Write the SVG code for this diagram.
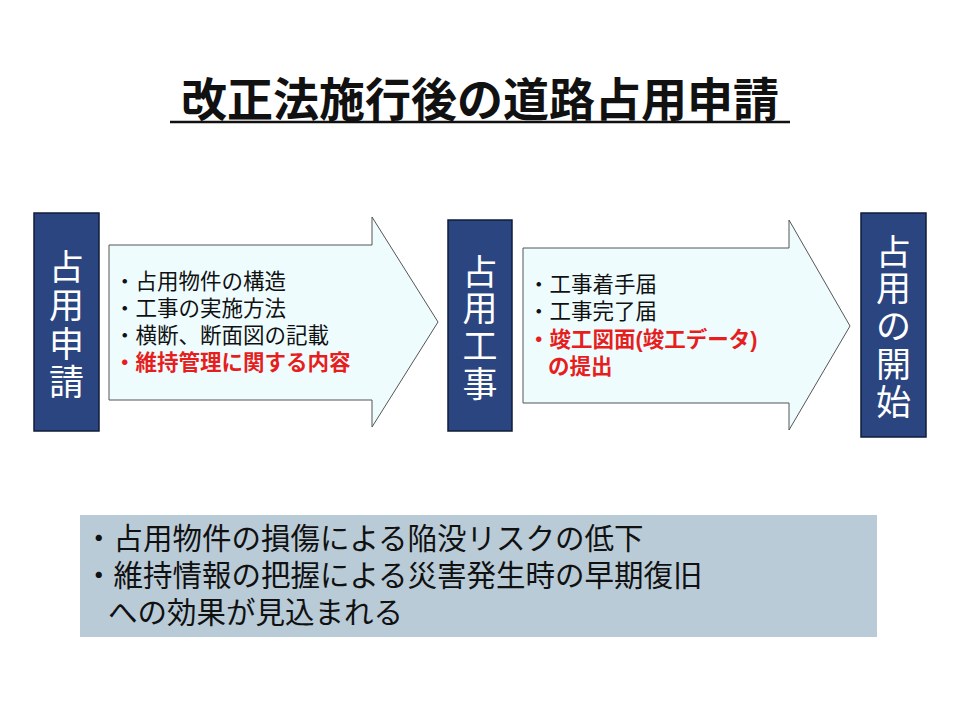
<svg xmlns="http://www.w3.org/2000/svg" width="960" height="720" viewBox="0 0 960 720">
<style>
text{font-family:"Liberation Sans","Noto Sans CJK JP",sans-serif}
.box{fill:#2a4580;stroke:#111c3a;stroke-width:1.5}
.v{fill:#fff;font-size:35px;text-anchor:middle}
.arr{fill:#eefcfe;stroke:#555;stroke-width:1}
.t{font-size:21.5px;fill:#111}
.r{font-size:21.5px;fill:#e61e1e;font-weight:bold}
.b{font-size:29.5px;fill:#111}
</style>
<rect width="960" height="720" fill="#fff"/>
<g id="title"><text x="480" y="116" font-size="46" font-weight="bold" text-anchor="middle" fill="#111">改正法施行後の道路占用申請</text>
<line x1="170" y1="122" x2="790" y2="122" stroke="#111" stroke-width="2.5"/></g>
<g id="n1"><rect class="box" x="34" y="213" width="65" height="218"/>
<text class="v" x="66.5" y="280">占</text><text class="v" x="66.5" y="318">用</text><text class="v" x="66.5" y="357">申</text><text class="v" x="66.5" y="395">請</text></g>
<g id="n2"><rect class="box" x="448" y="220" width="64" height="211"/>
<text class="v" x="480" y="285">占</text><text class="v" x="480" y="321">用</text><text class="v" x="480" y="359">工</text><text class="v" x="480" y="397">事</text></g>
<g id="n3"><rect class="box" x="861" y="213" width="65" height="224"/>
<text class="v" x="893.5" y="265">占</text><text class="v" x="893.5" y="301">用</text><text class="v" x="893.5" y="339">の</text><text class="v" x="893.5" y="377">開</text><text class="v" x="893.5" y="415">始</text></g>
<g id="connectors">
<g id="a1"><path class="arr" d="M109,245 H372 V217 L438,322 L372,427 V400 H109 Z"/>
<text class="t" x="114" y="289">・占用物件の構造</text>
<text class="t" x="114" y="316">・工事の実施方法</text>
<text class="t" x="114" y="343">・横断、断面図の記載</text>
<text class="r" x="114" y="370">・維持管理に関する内容</text></g>
<g id="a2"><path class="arr" d="M523,248 H789 V220 L850,326 L789,430 V403 H523 Z"/>
<text class="t" x="528" y="292">・工事着手届</text>
<text class="t" x="528" y="319">・工事完了届</text>
<text class="r" x="528" y="347">・竣工図面(竣工データ)</text>
<text class="r" x="548" y="374">の提出</text></g>
</g>
<g id="summary"><rect x="80" y="515" width="797" height="122" fill="#b9cbd7"/>
<text class="b" x="84" y="549">・占用物件の損傷による陥没リスクの低下</text>
<text class="b" x="84" y="586">・維持情報の把握による災害発生時の早期復旧</text>
<text class="b" x="108" y="623">への効果が見込まれる</text></g>
</svg>
